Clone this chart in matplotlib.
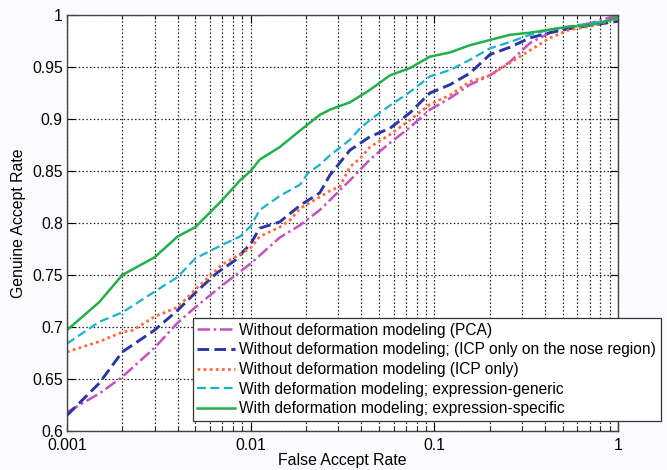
import matplotlib
matplotlib.use("Agg")
import matplotlib.pyplot as plt
from matplotlib.ticker import LogLocator, FixedLocator, NullFormatter

plt.rcParams['font.family'] = ['Liberation Sans', 'DejaVu Sans']

# ROC curves: false accept rate vs genuine accept rate
far_pca = [0.001, 0.0015, 0.002, 0.003, 0.004, 0.005, 0.007, 0.01, 0.0144, 0.0186,
           0.0238, 0.027, 0.0347, 0.0446, 0.0573, 0.0737, 0.0946, 0.1216, 0.1562,
           0.2008, 0.258, 0.3315, 0.426, 0.5473, 0.7031, 1.0]
gar_pca = [0.618, 0.636, 0.652, 0.680, 0.704, 0.719, 0.740, 0.761, 0.786, 0.798,
           0.8125, 0.822, 0.841, 0.861, 0.877, 0.892, 0.909, 0.920, 0.933,
           0.942, 0.955, 0.973, 0.983, 0.989, 0.992, 1.0]

far_nose = [0.001, 0.0015, 0.002, 0.003, 0.004, 0.005, 0.00655, 0.00821, 0.01, 0.0112,
            0.0144, 0.0186, 0.0238, 0.027, 0.0347, 0.0446, 0.0573, 0.0737, 0.0946,
            0.1216, 0.1562, 0.2008, 0.258, 0.3315, 0.426, 0.5473, 0.7031, 1.0]
gar_nose = [0.615, 0.646, 0.676, 0.697, 0.716, 0.733, 0.752, 0.764, 0.780, 0.795,
            0.801, 0.817, 0.829, 0.846, 0.870, 0.883, 0.891, 0.906, 0.925,
            0.933, 0.944, 0.962, 0.969, 0.978, 0.983, 0.987, 0.990, 0.994]

far_icp = [0.001, 0.0015, 0.002, 0.00229, 0.003, 0.004, 0.005, 0.007, 0.01, 0.0112,
           0.0144, 0.0164, 0.0186, 0.0238, 0.027, 0.0306, 0.0347, 0.0394, 0.0446,
           0.0573, 0.0737, 0.0946, 0.1216, 0.1562, 0.2008, 0.258, 0.3315, 0.426,
           0.5473, 0.7031, 1.0]
gar_icp = [0.676, 0.686, 0.695, 0.697, 0.710, 0.719, 0.736, 0.760, 0.776, 0.787,
           0.796, 0.803, 0.814, 0.825, 0.831, 0.835, 0.854, 0.862, 0.873,
           0.885, 0.899, 0.914, 0.923, 0.936, 0.942, 0.954, 0.966, 0.978,
           0.986, 0.989, 0.997]

far_generic = [0.001, 0.0015, 0.002, 0.003, 0.004, 0.005, 0.007, 0.00875, 0.01, 0.0112,
               0.0144, 0.0186, 0.0205, 0.0238, 0.027, 0.0347, 0.0394, 0.0446, 0.0573,
               0.0737, 0.0946, 0.1216, 0.1562, 0.2008, 0.258, 0.3315, 0.426, 0.5473,
               0.9035, 1.0]
gar_generic = [0.684, 0.705, 0.714, 0.734, 0.748, 0.766, 0.779, 0.787, 0.797, 0.8125,
               0.826, 0.837, 0.848, 0.856, 0.865, 0.880, 0.891, 0.899, 0.913,
               0.926, 0.941, 0.947, 0.957, 0.968, 0.974, 0.981, 0.986, 0.989,
               0.995, 0.997]

far_specific = [0.001, 0.0015, 0.002, 0.003, 0.004, 0.005, 0.007, 0.00875, 0.01, 0.0112,
                0.0144, 0.0186, 0.0238, 0.027, 0.0347, 0.0446, 0.0573, 0.0737, 0.0946,
                0.1216, 0.1562, 0.2008, 0.258, 0.3315, 0.426, 0.5473, 0.7031, 0.9035, 1.0]
gar_specific = [0.697, 0.724, 0.750, 0.767, 0.787, 0.796, 0.822, 0.841, 0.850, 0.861,
                0.873, 0.889, 0.904, 0.909, 0.916, 0.928, 0.942, 0.949, 0.960,
                0.964, 0.971, 0.976, 0.981, 0.983, 0.986, 0.989, 0.990, 0.995, 0.998]

labels = [
    "Without deformation modeling (PCA)",
    "Without deformation modeling; (ICP only on the nose region)",
    "Without deformation modeling (ICP only)",
    "With deformation modeling; expression-generic",
    "With deformation modeling; expression-specific",
]

fig = plt.figure(figsize=(6.67, 4.70), dpi=100)
fig.patch.set_facecolor('#fbfbfd')
ax = fig.add_axes([0.1004, 0.083, 0.8261, 0.885])

ax.plot(far_pca, gar_pca, color='#c64fc4', lw=1.8, dashes=(5, 1.5, 1, 1.5), label=labels[0])
ax.plot(far_nose, gar_nose, color='#2a35a8', lw=2.1, dashes=(4, 1.8), label=labels[1])
ax.plot(far_icp, gar_icp, color='#ff6a3d', lw=2.0, dashes=(1, 1.2), label=labels[2])
ax.plot(far_generic, gar_generic, color='#17b3d0', lw=1.6, dashes=(4, 2), label=labels[3])
ax.plot(far_specific, gar_specific, color='#22b04a', lw=1.8, label=labels[4])

ax.set_xscale('log')
ax.set_xlim(0.001, 1)
ax.set_ylim(0.6, 1.0)
ax.xaxis.set_major_locator(FixedLocator([0.001, 0.01, 0.1, 1]))
ax.set_xticklabels(['0.001', '0.01', '0.1', '1'])
ax.xaxis.set_minor_locator(LogLocator(base=10, subs=range(2, 10), numticks=20))
ax.xaxis.set_minor_formatter(NullFormatter())
yt = [0.6, 0.65, 0.7, 0.75, 0.8, 0.85, 0.9, 0.95, 1.0]
ax.set_yticks(yt)
ax.set_yticklabels(['0.6', '0.65', '0.7', '0.75', '0.8', '0.85', '0.9', '0.95', '1'])

ax.grid(True, which='major', color='#222222', linestyle=(0, (1.2, 1.8)), linewidth=0.9)
ax.grid(True, which='minor', axis='x', color='#222222', linestyle=(0, (1.2, 1.8)), linewidth=0.9)

ax.tick_params(which='both', direction='in', top=True, right=True, labelsize=11.3)
ax.tick_params(axis='y', pad=3)
ax.tick_params(axis='x', pad=5)
ax.tick_params(which='major', length=6)
ax.tick_params(which='minor', length=3)
for s in ax.spines.values():
    s.set_color('#444444')
    s.set_linewidth(1.0)

ax.set_xlabel('False Accept Rate', fontsize=11.4, labelpad=0)
ax.set_ylabel('Genuine Accept Rate', fontsize=11.4, labelpad=4)

leg = ax.legend(loc='lower left', bbox_to_anchor=(0.228, 0.024), fontsize=11.2,
                frameon=True, fancybox=False, handlelength=2.4, handletextpad=0.3,
                borderpad=0.3, labelspacing=0.3, borderaxespad=0)
leg.get_frame().set_edgecolor('#333333')
leg.get_frame().set_linewidth(0.9)
leg.get_frame().set_alpha(1.0)

fig.savefig('out.png', dpi=100, facecolor=fig.get_facecolor())
